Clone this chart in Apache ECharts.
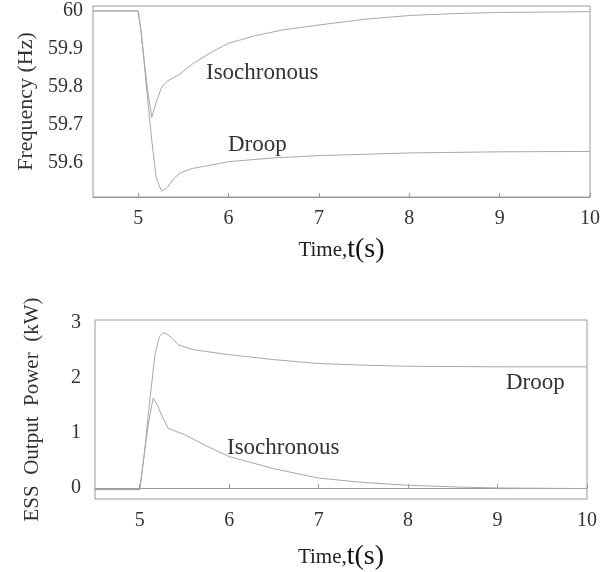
<!DOCTYPE html>
<html>
<head>
<meta charset="utf-8">
<script src="https://cdn.jsdelivr.net/npm/echarts@6/dist/echarts.min.js"></script>
<style>
  html, body { margin: 0; padding: 0; background: #fff; }
  #chart { width: 607px; height: 572px; }
</style>
</head>
<body>
<div id="chart"></div>
<script>
// data
const xTicks = [5, 6, 7, 8, 9, 10];
const freqTicks = [59.6, 59.7, 59.8, 59.9, 60];
const powerTicks = [0, 1, 2, 3];

const isoFreqT = [4.5, 5.0, 5.03, 5.1, 5.15, 5.2, 5.26, 5.32, 5.45, 5.6, 5.8, 6.0, 6.3, 6.6, 7.0, 7.5, 8.0, 8.5, 9.0, 10];
const isoFreqV = [60, 60, 59.95, 59.8, 59.72, 59.76, 59.8, 59.815, 59.832, 59.86, 59.89, 59.915, 59.935, 59.95, 59.963, 59.978, 59.988, 59.993, 59.996, 59.998];

const droopFreqT = [4.5, 5.0, 5.03, 5.1, 5.15, 5.2, 5.26, 5.32, 5.4, 5.47, 5.6, 6.0, 6.5, 7.0, 8.0, 9.0, 10];
const droopFreqV = [60, 60, 59.95, 59.78, 59.66, 59.56, 59.525, 59.535, 59.56, 59.574, 59.585, 59.603, 59.613, 59.619, 59.626, 59.629, 59.63];

const droopPowT = [4.5, 5.0, 5.05, 5.1, 5.17, 5.22, 5.26, 5.3, 5.36, 5.43, 5.6, 6.0, 6.5, 7.0, 7.5, 8.0, 9.0, 10];
const droopPowV = [-0.03, -0.03, 0.6, 1.4, 2.42, 2.75, 2.82, 2.8, 2.72, 2.6, 2.51, 2.42, 2.33, 2.26, 2.23, 2.21, 2.2, 2.2];

const isoPowT = [4.5, 5.0, 5.05, 5.1, 5.15, 5.2, 5.25, 5.32, 5.5, 5.75, 6.0, 6.5, 7.0, 7.5, 8.0, 8.5, 9.0, 10];
const isoPowV = [-0.03, -0.03, 0.6, 1.2, 1.63, 1.5, 1.3, 1.08, 0.97, 0.76, 0.57, 0.35, 0.18, 0.1, 0.05, 0.02, 0.0, -0.01];

const pairs = (t, v) => t.map((x, i) => [x, v[i]]);

const FONT = "Liberation Serif";
const GRAY = "#999";

const xAxisBase = (gridIndex, gap) => ({
  type: "value",
  gridIndex,
  min: 4.5,
  max: 10,
  name: "{a|Time,}{b|t(s)}",
  nameLocation: "middle",
  nameGap: gap,
  nameTextStyle: {
    fontFamily: FONT,
    fontSize: 21,
    color: "#222",
    rich: {
      a: { fontFamily: FONT, fontSize: 21, color: "#222" },
      b: { fontFamily: FONT, fontSize: 28, color: "#111" },
    },
  },
  axisLine: { lineStyle: { color: GRAY } },
  axisTick: { inside: true, length: 4, customValues: xTicks, lineStyle: { color: GRAY } },
  axisLabel: { customValues: xTicks, fontFamily: FONT, fontSize: 20, color: "#333", margin: 12 },
  splitLine: { show: false },
});

const lineSeries = (name, data, xi) => ({
  name,
  type: "line",
  xAxisIndex: xi,
  yAxisIndex: xi,
  data,
  showSymbol: false,
  lineStyle: { color: "#a8a8a8", width: 1 },
  silent: true,
});

const myChart = echarts.init(document.getElementById("chart"));

const option = {
  backgroundColor: "#ffffff",
  animation: false,
  grid: [
    { left: 93, right: 17, top: 6, height: 191, show: true, borderColor: GRAY, borderWidth: 1 },
    { left: 95, right: 20, top: 320, height: 183, show: true, borderColor: GRAY, borderWidth: 1 },
  ],
  xAxis: [xAxisBase(0, 39), xAxisBase(1, 44)],
  yAxis: [
    {
      type: "value",
      gridIndex: 0,
      min: 59.51,
      max: 60.013,
      name: "Frequency (Hz)",
      nameLocation: "middle",
      nameGap: 56,
      nameTextStyle: { fontFamily: FONT, fontSize: 22, color: "#333" },
      axisLine: { show: false },
      axisTick: { show: false },
      axisLabel: {
        customValues: freqTicks,
        fontFamily: FONT,
        fontSize: 20,
        color: "#333",
        margin: 10,
        formatter: (v) => (Math.abs(v - 60) < 1e-6 ? "60" : v.toFixed(1)),
      },
      splitLine: { show: false },
    },
    {
      type: "value",
      gridIndex: 1,
      min: -0.2,
      max: 3.05,
      name: "ESS  Output  Power  (kW)",
      nameLocation: "middle",
      nameGap: 52,
      nameTextStyle: { fontFamily: FONT, fontSize: 21, color: "#333" },
      axisLine: { show: false },
      axisTick: { show: false },
      axisLabel: { customValues: powerTicks, fontFamily: FONT, fontSize: 20, color: "#333", margin: 14 },
      splitLine: { show: false },
    },
  ],
  graphic: [
    { type: "text", left: 206, top: 61, style: { text: "Isochronous", font: "23px " + FONT, fill: "#333" } },
    { type: "text", left: 228, top: 133, style: { text: "Droop", font: "23px " + FONT, fill: "#333" } },
    { type: "text", left: 227, top: 436, style: { text: "Isochronous", font: "23px " + FONT, fill: "#333" } },
    { type: "text", left: 506, top: 371, style: { text: "Droop", font: "23px " + FONT, fill: "#333" } },
  ],
  series: [
    lineSeries("Isochronous", pairs(isoFreqT, isoFreqV), 0),
    lineSeries("Droop", pairs(droopFreqT, droopFreqV), 0),
    lineSeries("Droop", pairs(droopPowT, droopPowV), 1),
    lineSeries("Isochronous", pairs(isoPowT, isoPowV), 1),
  ],
};

option && myChart.setOption(option);
</script>
</body>
</html>
